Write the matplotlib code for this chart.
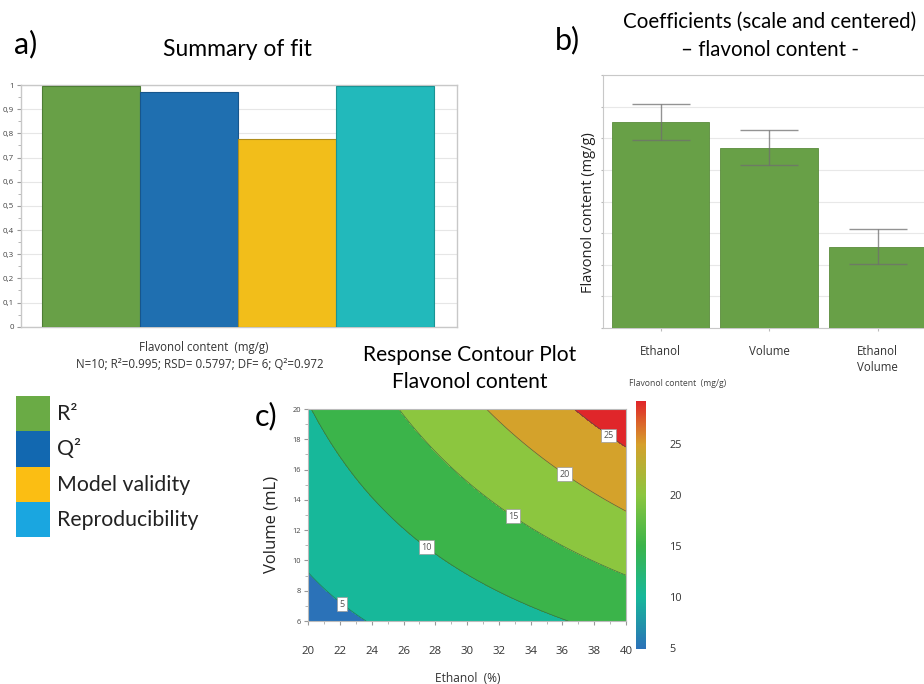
import numpy as np
import matplotlib
matplotlib.use('Agg')
import matplotlib.pyplot as plt
from matplotlib.colors import LinearSegmentedColormap, Normalize
from matplotlib.patches import Rectangle
import matplotlib.cm as cm

# ---------------- data ----------------
fit_metrics = ['R2', 'Q2', 'Model validity', 'Reproducibility']
fit_values = [0.995, 0.972, 0.777, 0.995]
fit_colors = ['#68a047', '#1f6fb0', '#f2be1a', '#22b9bb']
fit_edges = ['#4e7d35', '#17568c', '#b08d1a', '#1a9494']
fit_yticks = [0, 0.1, 0.2, 0.3, 0.4, 0.5, 0.6, 0.7, 0.8, 0.9, 1.0]
fit_yticklabels = ['0', '0,1', '0,2', '0,3', '0,4', '0,5', '0,6', '0,7', '0,8', '0,9', '1']
fit_stats = 'N=10; R²=0.995; RSD= 0.5797; DF= 6; Q²=0.972'

legend_labels = ['R²', 'Q²', 'Model validity', 'Reproducibility']
legend_colors = ['#6aab45', '#1268b0', '#fbbe13', '#1aa6e0']

coef_terms = ['Ethanol', 'Volume', 'Ethanol\nVolume']
coef_values = [6.5, 5.7, 2.57]
coef_errors = [0.57, 0.56, 0.55]
intercept = 13.2

ethanol_range = [20, 40]
volume_range = [6, 20]
ethanol_ticks = [20, 22, 24, 26, 28, 30, 32, 34, 36, 38, 40]
volume_ticks = [6, 8, 10, 12, 14, 16, 18, 20]
contour_levels = [5, 10, 15, 20, 25]
region_colors = ['#2b72b8', '#17b89a', '#3bb44a', '#8cc63f', '#d4a22b', '#e0262a']
label_positions = [(22.2, 7.2), (27.5, 11.0), (33.0, 13.1), (36.2, 15.8), (39.0, 18.4)]
cbar_range = [4.9, 29.2]
cbar_ticks = [5, 10, 15, 20, 25]
cbar_stops = [(4.9, '#2b72b8'), (10, '#17b89a'), (15, '#3bb44a'), (20, '#8cc63f'),
              (25, '#d6a02b'), (29.2, '#e0262a')]

# ---------------- figure ----------------
W, H = 924, 684
fig = plt.figure(figsize=(W / 100, H / 100), dpi=100)
BIG = 'Lato'
SMALL = 'Open Sans'


def box(l, t, r, b):
    return [l / W, 1 - b / H, (r - l) / W, (b - t) / H]


def fx(x):
    return x / W


def fy(y):
    return 1 - y / H


# ---------------- panel a ----------------
axa = fig.add_axes(box(20.7, 85, 456.7, 326.7))
xa = np.arange(len(fit_values))
axa.bar(xa, fit_values, width=1.0, color=fit_colors, edgecolor=fit_edges, linewidth=0.8, zorder=3)
axa.set_xlim(-0.72, 3.73)
axa.set_ylim(0, 1.0)
axa.set_yticks(fit_yticks)
axa.set_yticklabels(fit_yticklabels, fontsize=5.8, family=SMALL, color='#444444')
axa.set_yticks(np.arange(0.05, 1.0, 0.1), minor=True)
axa.set_xticks([])
axa.tick_params(axis='y', which='major', length=3, color='#999999', pad=2)
axa.tick_params(axis='y', which='minor', length=2, color='#aaaaaa')
axa.grid(axis='y', color='#e6e6e6', linewidth=0.8, zorder=0)
for s in axa.spines.values():
    s.set_color('#c8c8c8')
    s.set_linewidth(1.0)
fig.text(fx(237), fy(50), 'Summary of fit', family=BIG, fontsize=16.5, ha='center', va='center')
fig.text(fx(26), fy(44), 'a)', family=BIG, fontsize=22, ha='center', va='center')
fig.text(fx(204), fy(348), 'Flavonol content  (mg/g)', family=SMALL, fontsize=8.3, ha='center', va='center', color='#333333')
fig.text(fx(200), fy(364), fit_stats, family=SMALL, fontsize=8.3, ha='center', va='center', color='#333333')

# legend of panel a
for i, (lab, col) in enumerate(zip(legend_labels, legend_colors)):
    top = 396 + i * 35.3
    fig.patches.append(Rectangle((fx(16), fy(top + 35.3)), fx(50) - fx(16), fy(top) - fy(top + 35.3),
                                 transform=fig.transFigure, facecolor=col, edgecolor='none'))
    fig.text(fx(57), fy(top + 18), lab, family=BIG, fontsize=15.3, ha='left', va='center', color='#222222')

# ---------------- panel b ----------------
spacing = 108.8
axb = fig.add_axes(box(603, 75, 660 + 3.0 * spacing, 328))
xb = np.arange(len(coef_values))
axb.bar(xb, coef_values, width=0.9, color='#68a047', edgecolor='#5a8c3c', linewidth=0.6, zorder=3)
axb.errorbar(xb, coef_values, yerr=coef_errors, fmt='none', ecolor='#6f6f6f', alpha=0.75,
             elinewidth=1.0, capsize=21, capthick=1.0, zorder=4)
axb.set_xlim(-0.53, 3.0)
axb.set_ylim(0, 8)
axb.set_yticks(range(0, 9))
axb.set_yticklabels([])
axb.tick_params(axis='y', length=1.5, color='#bbbbbb')
axb.set_xticks(xb)
axb.set_xticklabels(coef_terms, fontsize=8.3, family=SMALL, color='#333333', linespacing=1.3)
axb.tick_params(axis='x', length=2, color='#bbbbbb', pad=10)
axb.grid(axis='y', color='#e8e8e8', linewidth=0.8, zorder=0)
for s in axb.spines.values():
    s.set_color('#c8c8c8')
fig.text(fx(589), fy(213), 'Flavonol content (mg/g)', family=SMALL, fontsize=10.5, rotation=90,
         ha='center', va='center', color='#222222')
fig.text(fx(678), fy(384), 'Flavonol content  (mg/g)', family=SMALL, fontsize=6.2, ha='center', va='center', color='#444444')
fig.text(fx(770), fy(22), 'Coefficients (scale and centered)', family=BIG, fontsize=14.8, ha='center', va='center')
fig.text(fx(770), fy(50), '– flavonol content -', family=BIG, fontsize=14.8, ha='center', va='center')
fig.text(fx(567), fy(40), 'b)', family=BIG, fontsize=22, ha='center', va='center')

# ---------------- panel c ----------------
axc = fig.add_axes(box(308.3, 409, 626, 621))
E = np.linspace(ethanol_range[0], ethanol_range[1], 301)
V = np.linspace(volume_range[0], volume_range[1], 301)
EE, VV = np.meshgrid(E, V)
e = (EE - np.mean(ethanol_range)) / (np.diff(ethanol_range)[0] / 2)
v = (VV - np.mean(volume_range)) / (np.diff(volume_range)[0] / 2)
Z = intercept + coef_values[0] * e + coef_values[1] * v + coef_values[2] * e * v
fill_levels = [Z.min() - 1] + contour_levels + [Z.max() + 1]
axc.contourf(EE, VV, Z, levels=fill_levels, colors=region_colors)
cs = axc.contour(EE, VV, Z, levels=contour_levels, colors='#2f5f4a', linewidths=0.5, alpha=0.8)
labels = axc.clabel(cs, inline=False, fmt='%d', fontsize=6.5, manual=label_positions)
for t in labels:
    t.set_rotation(0)
    t.set_color('#555555')
    t.set_family(SMALL)
    t.set_bbox(dict(facecolor='white', edgecolor='#999999', linewidth=0.5, pad=1.6))
axc.set_xlim(ethanol_range)
axc.set_ylim(volume_range)
axc.set_xticks(ethanol_ticks)
axc.set_xticklabels([str(t) for t in ethanol_ticks], fontsize=8.2, family=SMALL, color='#333333')
axc.set_xticks(np.arange(21, 40, 2), minor=True)
axc.set_yticks(volume_ticks)
axc.set_yticklabels([str(t) for t in volume_ticks], fontsize=5.4, family=SMALL, color='#444444')
axc.set_yticks(np.arange(7, 20, 1), minor=True)
axc.tick_params(axis='x', which='major', length=3, color='#999999', pad=15)
axc.tick_params(axis='x', which='minor', length=2, color='#aaaaaa')
axc.tick_params(axis='y', which='major', length=3, color='#999999', pad=2)
axc.tick_params(axis='y', which='minor', length=2, color='#aaaaaa')
for s in axc.spines.values():
    s.set_color('#bbbbbb')
    s.set_linewidth(0.8)
fig.text(fx(272), fy(524), 'Volume (mL)', family=SMALL, fontsize=12, rotation=90, ha='center', va='center', color='#222222')
fig.text(fx(468), fy(678), 'Ethanol  (%)', family=SMALL, fontsize=8.6, ha='center', va='center', color='#333333')
fig.text(fx(470), fy(355), 'Response Contour Plot', family=BIG, fontsize=15.1, ha='center', va='center')
fig.text(fx(470), fy(382), 'Flavonol content', family=BIG, fontsize=15.1, ha='center', va='center')
fig.text(fx(266), fy(416), 'c)', family=BIG, fontsize=22, ha='center', va='center')

# colorbar
span = cbar_range[1] - cbar_range[0]
cmap = LinearSegmentedColormap.from_list('flav', [((val - cbar_range[0]) / span, col) for val, col in cbar_stops])
sm = cm.ScalarMappable(norm=Normalize(*cbar_range), cmap=cmap)
cax = fig.add_axes(box(636, 401, 646, 649))
cb = fig.colorbar(sm, cax=cax)
cb.set_ticks(cbar_ticks)
cb.ax.tick_params(length=0, pad=17, labelsize=7.8, labelcolor='#333333')
for t in cb.ax.get_yticklabels():
    t.set_family(SMALL)
cb.outline.set_visible(False)

fig.savefig('out.png', dpi=100, facecolor='white')
